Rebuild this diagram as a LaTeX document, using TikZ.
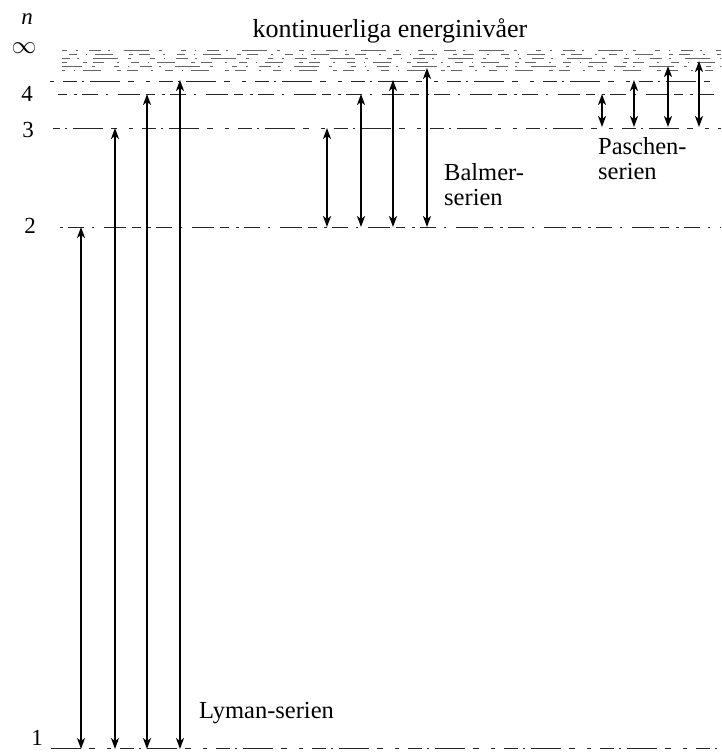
\documentclass[tikz,border=0pt]{standalone}
\usepackage{fontspec}
\setmainfont{Liberation Serif}
\usetikzlibrary{arrows.meta}
\tikzset{
  trans/.style={line width=1.6pt, {Stealth[length=11pt,width=8pt,inset=3pt]}-{Stealth[length=11pt,width=8pt,inset=3pt]}},
  levA/.style={line width=0.9pt, black!85, dash pattern=on 9pt off 7pt on 3pt off 5pt on 16pt off 8pt on 2pt off 10pt on 22pt off 6pt},
  levB/.style={line width=0.9pt, black!85, dash pattern=on 4pt off 9pt on 14pt off 5pt on 2pt off 6pt on 30pt off 8pt on 6pt off 12pt},
  cont/.style={line width=0.6pt, black!60, dash pattern=on 5pt off 9pt on 1.5pt off 11pt on 12pt off 7pt on 2pt off 14pt on 25pt off 10pt on 3pt off 19pt},
  contB/.style={line width=0.6pt, black!60, dash pattern=on 2pt off 12pt on 8pt off 9pt on 1pt off 8pt on 18pt off 16pt on 4pt off 6pt on 11pt off 13pt},
  lab/.style={inner sep=0pt, anchor=base, font=\fontsize{23}{23}\selectfont},
  series/.style={inner sep=0pt, anchor=base west, font=\fontsize{24.5}{24}\selectfont},
}
\begin{document}
\begin{tikzpicture}[x=1pt,y=-1pt]
\useasboundingbox (0,0) rectangle (721,752);
% continuum
\foreach \yy/\st/\ph in {50/cont/0,54/contB/7,58/cont/31,62/contB/53,66/cont/67,70/contB/19}
  \draw[\st, dash phase=\ph pt] (62,\yy) -- (721,\yy);
% level lines
\coordinate (l5s) at (50,81);  \coordinate (l5e) at (721,81);
\coordinate (l4s) at (58,94);  \coordinate (l4e) at (721,94);
\coordinate (l3s) at (53,128); \coordinate (l3e) at (721,128);
\coordinate (l2s) at (55,227); \coordinate (l2e) at (721,227);
\coordinate (l1s) at (48,748); \coordinate (l1e) at (721,748);
\draw[levB] (l5s) -- (l5e);
\draw[levA] (l4s) -- (l4e);
\draw[levB, dash phase=20pt] (l3s) -- (l3e);
\draw[levA, dash phase=11pt] (l2s) -- (l2e);
\draw[levB, dash phase=37pt] (l1s) -- (l1e);
% labels
\node[inner sep=0pt, anchor=base, font=\fontsize{23}{23}\selectfont\itshape] (nlab) at (27,25) {n};
\node[inner sep=0pt, font=\fontsize{26}{26}\selectfont] (inflab) at (24,48) {$\infty$};
\node[lab] (lab4) at (27,101) {4};
\node[lab] (lab3) at (28,137) {3};
\node[lab] (lab2) at (30,233) {2};
\node[lab] (lab1) at (37,745) {1};
\node[inner sep=0pt, anchor=base, font=\fontsize{26}{26}\selectfont] (title) at (390,38) {kontinuerliga energinivåer};
% Lyman
\coordinate (ly1t) at (81,227);  \coordinate (ly1b) at (81,749);
\coordinate (ly2t) at (115,128); \coordinate (ly2b) at (115,749);
\coordinate (ly3t) at (147,94);  \coordinate (ly3b) at (147,749);
\coordinate (ly4t) at (180,80);  \coordinate (ly4b) at (180,749);
\foreach \i in {1,2,3,4} \draw[trans] (ly\i t) -- (ly\i b);
% Balmer
\coordinate (ba1t) at (327,128); \coordinate (ba1b) at (327,227);
\coordinate (ba2t) at (361,94);  \coordinate (ba2b) at (361,227);
\coordinate (ba3t) at (393,80);  \coordinate (ba3b) at (393,227);
\coordinate (ba4t) at (427,68);  \coordinate (ba4b) at (427,227);
\foreach \i in {1,2,3,4} \draw[trans] (ba\i t) -- (ba\i b);
% Paschen
\coordinate (pa1t) at (602,94);  \coordinate (pa1b) at (602,127);
\coordinate (pa2t) at (634,80);  \coordinate (pa2b) at (634,127);
\coordinate (pa3t) at (668,66);  \coordinate (pa3b) at (668,127);
\coordinate (pa4t) at (699,61);  \coordinate (pa4b) at (699,127);
\foreach \i in {1,2,3,4} \draw[trans] (pa\i t) -- (pa\i b);
% series names
\node[series] (lyman) at (199,718) {Lyman-serien};
\node[series] (balmerA) at (444,180) {Balmer-};
\node[series] (balmerB) at (444,205) {serien};
\node[series] (paschenA) at (598,154) {Paschen-};
\node[series] (paschenB) at (598,179) {serien};
\end{tikzpicture}
\end{document}
